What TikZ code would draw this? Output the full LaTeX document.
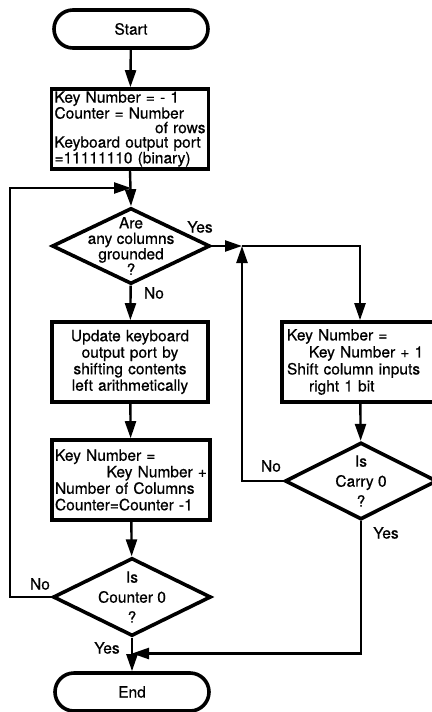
\documentclass[tikz,border=0pt]{standalone}
\usepackage{fontspec}
\setmainfont[FakeBold=0.6]{TeX Gyre Heros}
\usetikzlibrary{shapes.geometric, arrows.meta, calc}

\begin{document}
\begin{tikzpicture}[x=1pt, y=-1pt,
            txt/.style={font=\fontsize{15.5}{14.5}\selectfont},
            term/.style={draw, line width=3.6pt, rounded corners=19pt, minimum width=154pt, minimum height=38pt, txt},
            proc/.style={draw, line width=3.6pt, minimum height=80pt, inner xsep=3pt, inner ysep=0pt, txt},
            dec/.style={draw, diamond, line width=3.6pt, inner sep=0pt},
            flow/.style={line width=2.4pt, -{Triangle[length=17pt, width=11pt]}},
            tag/.style={txt, inner sep=0pt}
        ]
        \useasboundingbox (0,0) rectangle (431,712);

        % Left column
        \node[term] (start) at (131,29) {Start};
        \node[proc, text width=151pt, align=left] (init) at (130,129)
            {Key Number = - 1\\Counter = Number\\\hspace*{\fill}of rows\hspace*{6pt}\\Keyboard output port\\=11111110 (binary)};
        \node[dec, minimum width=158pt, minimum height=76pt,
            label={[txt, align=center, font=\fontsize{15.5}{15.5}\selectfont]center:{Are\\any columns\\grounded\\?}}] (grounded) at (131,246) {};
        \node[proc, text width=150pt, align=center, font=\fontsize{15.5}{16.5}\selectfont] (update) at (130,362)
            {Update keyboard\\output port by\\shifting contents\\left arithmetically};
        \node[proc, text width=152pt, align=left, font=\fontsize{15.5}{16.5}\selectfont] (keynum) at (131,480)
            {Key Number =\\\hspace*{\fill}Key Number +\hspace*{6pt}\\Number of Columns\\Counter=Counter -1};
        \node[dec, minimum width=158pt, minimum height=78pt,
            label={[txt, align=center, font=\fontsize{15.5}{20}\selectfont]center:{Is\\Counter 0\\?}}] (counter) at (132,597) {};
        \node[term] (end) at (132,692) {End};

        % Right column
        \node[proc, text width=146pt, align=left, inner xsep=5pt, font=\fontsize{15.5}{17}\selectfont] (shift) at (360,362)
            {Key Number =\\\hspace*{22pt}Key Number + 1\\Shift column inputs\\\hspace*{22pt}right 1 bit};
        \node[dec, minimum width=152pt, minimum height=77pt,
            label={[txt, align=center, font=\fontsize{15.5}{20}\selectfont]center:{Is\\Carry 0\\?}}] (carry) at (361,481) {};

        % Junctions
        \coordinate (loopin) at (131,188);
        \coordinate (yesjoin) at (242,246);
        \coordinate (endjoin) at ($(counter.south)!0.47!(end.north)$);

        % Connectors
        \draw[flow] (start) -- (init);
        \draw[flow] (init.south) -- (grounded.north);
        \draw[flow] (grounded) -- (update);
        \draw[flow] (update) -- (keynum);
        \draw[flow] (keynum) -- (counter);
        \draw[flow] (counter) -- (end);
        \draw[flow] (counter.west) -- ++(-41,0) |- (loopin);
        \draw[flow] (grounded.east) -- (yesjoin);
        \draw[flow] (yesjoin) -| (shift.north);
        \draw[flow] (carry.west) -| (yesjoin);
        \draw[flow] (shift) -- (carry);
        \draw[flow] (carry.south) |- (endjoin);

        % Labels
        \node[tag] (yesa) at (200,227) {Yes};
        \node[tag] (noa) at (154,293) {No};
        \node[tag] (nob) at (271,466) {No};
        \node[tag] (yesb) at (386,533) {Yes};
        \node[tag] (noc) at (40,584) {No};
        \node[tag] (yesc) at (107,648) {Yes};

\end{tikzpicture}
\end{document}
